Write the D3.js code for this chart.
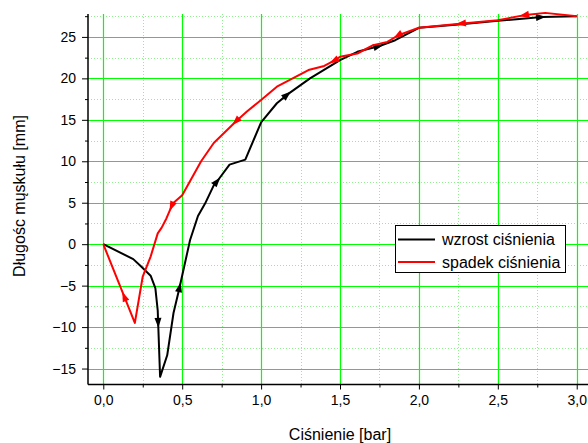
<!DOCTYPE html>
<html>
<head>
<meta charset="utf-8">
<script src="https://cdn.jsdelivr.net/npm/d3@7"></script>
<style>
    body { margin: 0; background: #fff; }
    text { font-family: Arial, "Liberation Sans", sans-serif; fill: #000; }
</style>
</head>
<body>
<div id="chart"></div>
<script>
// pressure increase (black) and decrease (red), stored with rising pressure
const pressureUp = [0, 0.19, 0.24, 0.30, 0.33, 0.345, 0.36, 0.405, 0.445, 0.48, 0.55, 0.60, 0.645, 0.70, 0.73, 0.80, 0.90, 1.00, 1.10, 1.17, 1.31, 1.50, 1.61, 1.75, 1.85, 2.00, 2.25, 2.50, 2.78, 3.00];
const lengthUp = [0, -1.8, -2.7, -3.8, -5.3, -8.0, -16.0, -13.4, -8.3, -5.5, 0.5, 3.4, 4.9, 7.1, 7.8, 9.6, 10.2, 14.7, 17.0, 18.1, 20.0, 22.2, 23.2, 23.9, 24.6, 26.1, 26.5, 26.95, 27.4, 27.5];

const pressureDown = [0, 0.20, 0.25, 0.30, 0.345, 0.37, 0.40, 0.44, 0.50, 0.62, 0.70, 0.84, 0.91, 1.00, 1.10, 1.30, 1.40, 1.46, 1.50, 1.61, 1.71, 1.80, 1.87, 2.00, 2.26, 2.50, 2.66, 2.80, 3.00];
const lengthDown = [0, -9.5, -3.9, -1.5, 1.3, 2.0, 3.1, 4.9, 5.9, 10.0, 12.2, 14.8, 16.0, 17.4, 19.0, 21.0, 21.5, 22.1, 22.6, 23.0, 24.0, 24.4, 25.2, 26.1, 26.6, 27.0, 27.6, 27.9, 27.5];

// where the direction arrows sit (pressure values)
const arrowsUp = [0.348, 0.485, 0.725, 1.17, 1.75, 2.78];
const arrowsDown = [0.13, 0.43, 0.835, 1.455, 1.86, 2.26, 2.66];

const xTicks = [0, 0.5, 1.0, 1.5, 2.0, 2.5, 3.0];
const yTicks = [-15, -10, -5, 0, 5, 10, 15, 20, 25];
const legendLabels = ["wzrost ciśnienia", "spadek ciśnienia"];

const width = 588;
const height = 443;

const svg = d3.select("#chart")
    .append("svg")
    .attr("width", width)
    .attr("height", height);

const x = d3.scaleLinear().domain([-0.1, 3.1]).range([87.5, 592.5]);
const y = d3.scaleLinear().domain([-16.9, 27.8]).range([384.3, 13.7]);
const plotLeft = 88, plotBottom = 384.5, plotTop = 14, plotRight = 588;

const fmt = v => d3.format(".1f")(v).replace(".", ",");

// minor grid (dotted)
const xMinor = d3.range(0.25, 3.0, 0.5);
const yMinor = d3.range(-12.5, 28, 5);
svg.append("g").selectAll("line")
    .data(xMinor).enter().append("line")
    .attr("x1", d => Math.round(x(d)) + 0.5).attr("x2", d => Math.round(x(d)) + 0.5)
    .attr("y1", plotTop).attr("y2", plotBottom)
    .attr("stroke", "#90f090").attr("stroke-dasharray", "1,2");
svg.append("g").selectAll("line")
    .data(yMinor).enter().append("line")
    .attr("x1", plotLeft).attr("x2", plotRight)
    .attr("y1", d => Math.round(y(d)) + 0.5).attr("y2", d => Math.round(y(d)) + 0.5)
    .attr("stroke", "#90f090").attr("stroke-dasharray", "1,2");

// major grid
svg.append("g").selectAll("line")
    .data(xTicks).enter().append("line")
    .attr("x1", d => Math.round(x(d)) + 0.5).attr("x2", d => Math.round(x(d)) + 0.5)
    .attr("y1", plotTop).attr("y2", plotBottom)
    .attr("stroke", "#00ff00").attr("stroke-width", 1.2);
svg.append("g").selectAll("line")
    .data(yTicks).enter().append("line")
    .attr("x1", plotLeft).attr("x2", plotRight)
    .attr("y1", d => Math.round(y(d)) + 0.5).attr("y2", d => Math.round(y(d)) + 0.5)
    .attr("stroke", "#00ff00").attr("stroke-width", 1.2);

// axes
const xAxis = svg.append("g")
    .attr("transform", `translate(0,${plotBottom})`)
    .call(d3.axisBottom(x).tickValues(xTicks).tickFormat(fmt).tickSize(5).tickPadding(6));
xAxis.select(".domain").remove();
svg.append("g")
    .attr("transform", `translate(0,${plotBottom})`)
    .call(d3.axisBottom(x).tickValues(xMinor).tickFormat("").tickSize(3))
    .select(".domain").remove();

const yAxis = svg.append("g")
    .attr("transform", `translate(${plotLeft},0)`)
    .call(d3.axisLeft(y).tickValues(yTicks).tickFormat(d3.format("d")).tickSize(6).tickPadding(6));
yAxis.select(".domain").remove();
svg.append("g")
    .attr("transform", `translate(${plotLeft},0)`)
    .call(d3.axisLeft(y).tickValues(yMinor).tickFormat("").tickSize(3))
    .select(".domain").remove();

svg.selectAll(".tick text").style("font-size", "14px").style("font-family", "Arial, 'Liberation Sans', sans-serif");
svg.selectAll(".tick line").attr("stroke", "#000");

svg.append("line").attr("x1", plotLeft).attr("x2", plotLeft).attr("y1", plotTop).attr("y2", plotBottom)
    .attr("stroke", "#000").attr("stroke-width", 1.5);
svg.append("line").attr("x1", plotLeft).attr("x2", plotRight).attr("y1", plotBottom).attr("y2", plotBottom)
    .attr("stroke", "#000").attr("stroke-width", 1.5);

// titles
svg.append("text")
    .attr("x", 340).attr("y", 440)
    .attr("text-anchor", "middle")
    .style("font-size", "16px")
    .text("Ciśnienie [bar]");
svg.append("text")
    .attr("transform", "translate(25,196) rotate(-90)")
    .attr("text-anchor", "middle")
    .style("font-size", "16px")
    .text("Długośc mųskułu [mm]");

// curves
const line = d3.line().x(d => x(d[0])).y(d => y(d[1]));
const series = [
    { xs: pressureUp, ys: lengthUp, arrows: arrowsUp, color: "#000", reverse: false },
    { xs: pressureDown, ys: lengthDown, arrows: arrowsDown, color: "#f00", reverse: true }
];

// find the point and heading on the polyline at pressure xv
function arrowAt(s, xv) {
    let i = 0;
    while (i < s.xs.length - 2 && s.xs[i + 1] < xv) i++;
    const t = (xv - s.xs[i]) / (s.xs[i + 1] - s.xs[i]);
    const px = x(s.xs[i]) + t * (x(s.xs[i + 1]) - x(s.xs[i]));
    const py = y(s.ys[i]) + t * (y(s.ys[i + 1]) - y(s.ys[i]));
    let ang = Math.atan2(y(s.ys[i + 1]) - y(s.ys[i]), x(s.xs[i + 1]) - x(s.xs[i])) * 180 / Math.PI;
    if (s.reverse) ang += 180;
    return { px, py, ang };
}

series.forEach(s => {
    svg.append("path")
        .datum(d3.zip(s.xs, s.ys))
        .attr("fill", "none")
        .attr("stroke", s.color)
        .attr("stroke-width", 2)
        .attr("stroke-linejoin", "round")
        .attr("d", line);

    svg.append("g").selectAll("path")
        .data(s.arrows.map(v => arrowAt(s, v)))
        .enter().append("path")
        .attr("d", "M4,0 L-6,-3.5 L-6,3.5 Z")
        .attr("fill", s.color)
        .attr("transform", d => `translate(${d.px},${d.py}) rotate(${d.ang})`);
});

// legend
const legend = svg.append("g").attr("transform", "translate(395,225)");
legend.append("rect")
    .attr("x", 0.5).attr("y", 0.5)
    .attr("width", 170).attr("height", 47)
    .attr("fill", "#fff").attr("stroke", "#000");
legendLabels.forEach((lab, i) => {
    legend.append("line")
        .attr("x1", 3).attr("x2", 40)
        .attr("y1", 14.5 + i * 22.5).attr("y2", 14.5 + i * 22.5)
        .attr("stroke", series[i].color).attr("stroke-width", 2);
    legend.append("text")
        .attr("x", 47).attr("y", 20 + i * 22.5)
        .style("font-size", "16px")
        .text(lab);
});
</script>
</body>
</html>
